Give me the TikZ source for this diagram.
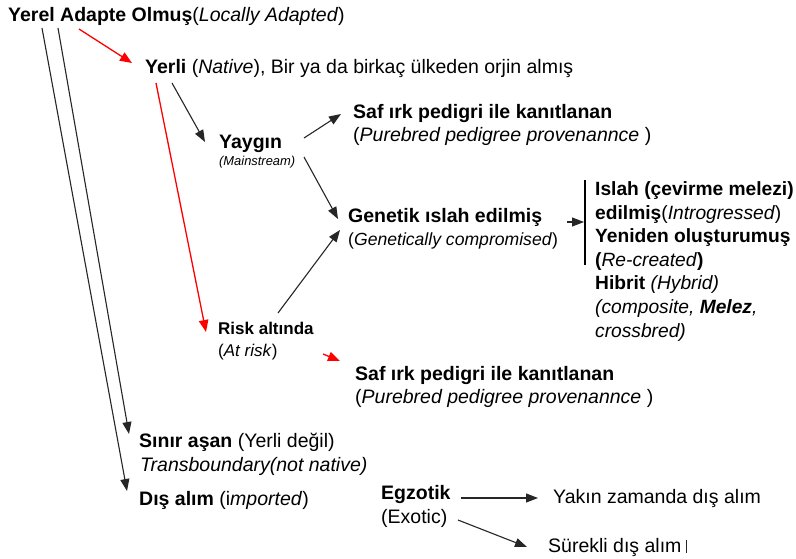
\documentclass[tikz,border=0pt]{standalone}
\usepackage{fontspec}
\setmainfont{Liberation Sans}
\usetikzlibrary{arrows.meta}
\begin{document}
\begin{tikzpicture}[x=1pt,y=-1pt,
  lbl/.style={inner sep=0pt, anchor=base west, font=\fontsize{19.5}{23.5}\selectfont},
  col/.style={lbl, align=left, font=\fontsize{19.2}{23.6}\selectfont},
  small/.style={lbl, font=\fontsize{12.9}{15}\selectfont},
  mid/.style={lbl, font=\fontsize{17}{20}\selectfont},
  gen/.style={lbl, font=\fontsize{17.6}{21}\selectfont},
  arr/.style={draw=black!85, line width=1.1pt, -{Triangle[length=12pt,width=9pt]}},
  redarr/.style={draw=red, line width=1.3pt, -{Triangle[length=12pt,width=9.5pt]}},
  bar/.style={draw=black, line width=2.4pt}]
\useasboundingbox[fill=white] (0,0) rectangle (796,558);
% nodes
\node[lbl] (yerel) at (8,21) {\textbf{Yerel Adapte Olmuş}(\textit{Locally Adapted})};
\node[lbl] (yerli) at (145,73) {\textbf{Yerli} (\textit{Native}), Bir ya da birkaç ülkeden orjin almış};
\node[lbl] (saf1) at (353,118) {\textbf{Saf ırk pedigri ile kanıtlanan}};
\node[lbl] (saf1b) at (353,141) {(\textit{Purebred pedigree provenannce} )};
\node[lbl] (yaygin) at (219,148) {\textbf{Yaygın}};
\node[small] (yayginb) at (219,165) {\textit{(Mainstream)}};
\node[lbl] (genetik) at (348,222) {\textbf{Genetik ıslah edilmiş}};
\node[gen] (genetikb) at (348,245) {(\textit{Genetically compromised})};
\node[col] (islah) at (595,337) {\textbf{Islah (çevirme melezi)}\\
  \textbf{edilmiş}(\textit{Introgressed})\\
  \textbf{Yeniden oluşturumuş}\\
  \textbf{(}\textit{Re-created}\textbf{)}\\
  \textbf{Hibrit} \textit{(Hybrid)}\\
  \textit{(composite, \textbf{Melez},}\\
  \textit{crossbred)}};
\node[mid] (risk) at (218,334) {\textbf{Risk altında}};
\node[mid] (riskb) at (218,356) {(\textit{At risk})};
\node[lbl] (saf2) at (355,380) {\textbf{Saf ırk pedigri ile kanıtlanan}};
\node[lbl] (saf2b) at (355,403) {(\textit{Purebred pedigree provenannce} )};
\node[lbl] (sinir) at (139,447) {\textbf{Sınır aşan} (Yerli değil)};
\node[lbl] (sinirb) at (140,471) {\textit{Transboundary(not native)}};
\node[lbl] (dis) at (139,505) {\textbf{Dış alım} (i\textit{mported})};
\node[lbl] (egz) at (381,499) {\textbf{Egzotik}};
\node[lbl] (egzb) at (381,523) {(Exotic)};
\node[lbl] (yakin) at (553,503) {Yakın zamanda dış alım};
\node[lbl] (surekli) at (548,552) {Sürekli dış alım};
% connectors
\draw[redarr] ([shift={(71,8)}]yerel.base west) -- ([shift={(-13,-10)}]yerli.base west);
\draw[arr] ([shift={(34,7)}]yerel.base west) -- ([shift={(-12,-14)}]dis.base west);
\draw[arr] ([shift={(50,7)}]yerel.base west) -- ([shift={(-10,-13)}]sinir.base west);
\draw[arr] ([shift={(27,10)}]yerli.base west) -- ([shift={(-14,-6)}]yaygin.base west);
\draw[redarr] ([shift={(11,10)}]yerli.base west) -- ([shift={(-12,-2)}]risk.base west);
\draw[arr] ([shift={(85,-10)}]yaygin.base west) -- ([shift={(-12,-4)}]saf1.base west);
\draw[arr] ([shift={(85,9)}]yaygin.base west) -- ([shift={(-10,-3)}]genetik.base west);
\draw[arr] ([shift={(60,-21)}]risk.base west) -- ([shift={(-8,8)}]genetik.base west);
\draw[redarr] ([shift={(105,20)}]risk.base west) -- ([shift={(-15,-19)}]saf2.base west);
\draw[bar] ([shift={(-10,-157)}]islah.base west) -- ([shift={(-10,-72)}]islah.base west);
\draw[arr] ([shift={(219,0)}]genetik.base west) -- ([shift={(-11,-115)}]islah.base west);
\draw[arr] ([shift={(80,-1)}]egz.base west) -- ([shift={(-15,-5)}]yakin.base west);
\draw[arr] ([shift={(77,21)}]egz.base west) -- ([shift={(-21,-5)}]surekli.base west);
\draw[black!85, line width=1pt] ([shift={(138,-12)}]surekli.base west) -- ([shift={(138,1)}]surekli.base west);
\end{tikzpicture}
\end{document}
